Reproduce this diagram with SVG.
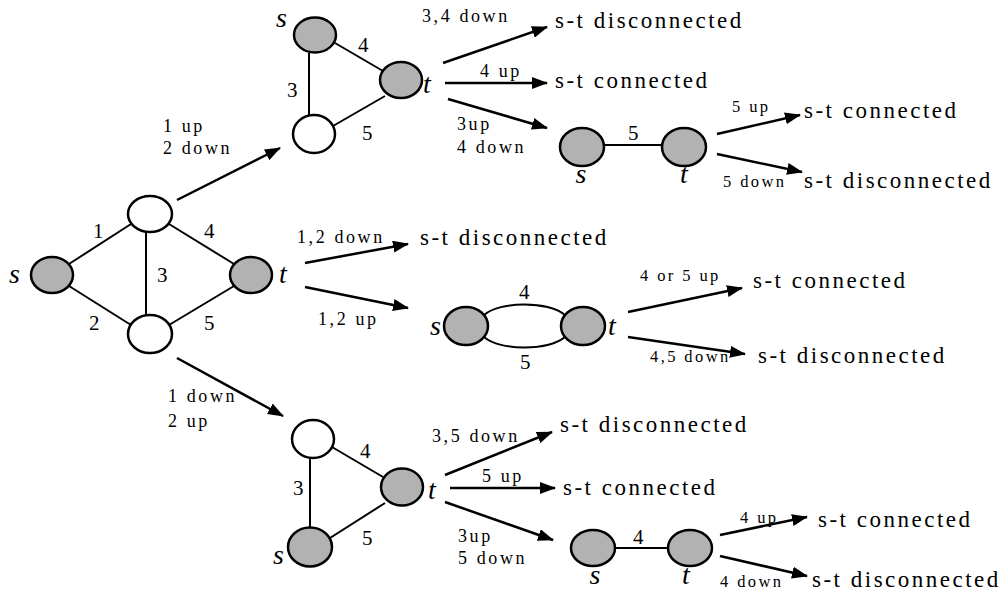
<svg xmlns="http://www.w3.org/2000/svg" width="1008" height="596" viewBox="0 0 1008 596">
<defs>
<marker id="ah" markerUnits="userSpaceOnUse" markerWidth="16" markerHeight="12" refX="15" refY="6" orient="auto">
<path d="M0,0 L16,6 L0,12 z" fill="#000"/>
</marker>
<style>
.g{fill:#b2b2b2;stroke:#000;stroke-width:2.5}
.w{fill:#fff;stroke:#000;stroke-width:2.5}
.e{stroke:#000;stroke-width:2;fill:none}
.a{stroke:#000;stroke-width:2.5;fill:none;marker-end:url(#ah)}
text{font-family:"Liberation Serif","Times New Roman",serif;fill:#000}
.n{font-size:21px}
.v{font-size:28px;font-style:italic}
.l{font-size:18px;letter-spacing:2.6px}
.r{font-size:16.5px;letter-spacing:2.4px}
.o{font-size:23px;letter-spacing:2.5px}
</style>
</defs>
<rect width="1008" height="596" fill="#fff"/>

<g id="connectors">
<!-- main graph edges -->
<line class="e" x1="69" y1="264" x2="131" y2="224"/>
<line class="e" x1="169" y1="224" x2="234" y2="264"/>
<line class="e" x1="69" y1="286" x2="131" y2="325"/>
<line class="e" x1="169" y1="325" x2="234" y2="286"/>
<line class="e" x1="146" y1="232" x2="146" y2="315"/>
<!-- top triangle edges -->
<line class="e" x1="335" y1="43" x2="383" y2="71"/>
<line class="e" x1="309" y1="53" x2="309" y2="115"/>
<line class="e" x1="333" y1="126" x2="385" y2="96"/>
<!-- top 5 graph edge -->
<line class="e" x1="604" y1="145" x2="662" y2="145"/>
<!-- middle two-edge graph -->
<path class="e" d="M484,315 C500,301 548,301 565,315"/>
<path class="e" d="M484,337 C500,351 548,351 565,337"/>
<!-- bottom triangle edges -->
<line class="e" x1="332" y1="447" x2="383" y2="477"/>
<line class="e" x1="310" y1="458" x2="310" y2="528"/>
<line class="e" x1="330" y1="538" x2="385" y2="503"/>
<!-- bottom 4 graph edge -->
<line class="e" x1="615" y1="548" x2="668" y2="548"/>

<!-- arrows -->
<line class="a" x1="177" y1="200" x2="280" y2="148"/>
<line class="a" x1="305" y1="263" x2="408" y2="244"/>
<line class="a" x1="305" y1="287" x2="408" y2="308"/>
<line class="a" x1="177" y1="358" x2="283" y2="416"/>

<line class="a" x1="443" y1="63" x2="547" y2="27"/>
<line class="a" x1="445" y1="83" x2="547" y2="83"/>
<line class="a" x1="448" y1="99" x2="547" y2="128"/>
<line class="a" x1="717" y1="134" x2="800" y2="115"/>
<line class="a" x1="717" y1="154" x2="802" y2="172"/>

<line class="a" x1="628" y1="312" x2="742" y2="288"/>
<line class="a" x1="628" y1="337" x2="745" y2="354"/>

<line class="a" x1="445" y1="475" x2="552" y2="432"/>
<line class="a" x1="450" y1="488" x2="555" y2="488"/>
<line class="a" x1="445" y1="502" x2="553" y2="540"/>
<line class="a" x1="720" y1="535" x2="807" y2="517"/>
<line class="a" x1="720" y1="556" x2="807" y2="576"/>
</g>

<!-- main graph -->
<g id="main-s"><ellipse class="g" cx="52" cy="275" rx="21" ry="18"/><text class="v" x="9" y="283">s</text></g>
<g id="main-a"><ellipse class="w" cx="150" cy="214" rx="22" ry="18"/></g>
<g id="main-b"><ellipse class="w" cx="150" cy="334" rx="22" ry="19"/></g>
<g id="main-t"><ellipse class="g" cx="251" cy="275" rx="21" ry="18"/><text class="v" x="279" y="283">t</text></g>
<g id="main-labels">
<text class="n" x="93" y="238">1</text>
<text class="n" x="204" y="238">4</text>
<text class="n" x="157" y="282">3</text>
<text class="n" x="89" y="330">2</text>
<text class="n" x="204" y="330">5</text>
</g>

<!-- top triangle -->
<g id="top-s"><ellipse class="g" cx="315" cy="35" rx="21" ry="17.5"/><text class="v" x="276" y="27">s</text></g>
<g id="top-t"><ellipse class="g" cx="401" cy="80" rx="21" ry="18"/><text class="v" x="423" y="93">t</text></g>
<g id="top-c"><ellipse class="w" cx="314" cy="134" rx="21" ry="19"/></g>
<g id="top-labels">
<text class="n" x="358" y="52">4</text>
<text class="n" x="287" y="97">3</text>
<text class="n" x="362" y="140">5</text>
</g>

<!-- top 5 graph -->
<g id="top5-s"><ellipse class="g" cx="582" cy="147" rx="22" ry="19"/><text class="v" x="581" y="183" text-anchor="middle">s</text></g>
<g id="top5-t"><ellipse class="g" cx="684" cy="147" rx="22" ry="19"/><text class="v" x="684" y="183" text-anchor="middle">t</text></g>
<text class="n" x="628" y="140">5</text>

<!-- middle graph -->
<g id="mid-s"><ellipse class="g" cx="466" cy="326" rx="22" ry="19"/><text class="v" x="430" y="335">s</text></g>
<g id="mid-t"><ellipse class="g" cx="583" cy="326" rx="22" ry="19"/><text class="v" x="608" y="335">t</text></g>
<text class="n" x="519" y="299">4</text>
<text class="n" x="520" y="369">5</text>

<!-- bottom triangle -->
<g id="bot-c"><ellipse class="w" cx="313" cy="439" rx="21" ry="19"/></g>
<g id="bot-t"><ellipse class="g" cx="402" cy="487" rx="21" ry="18.5"/><text class="v" x="428" y="499">t</text></g>
<g id="bot-s"><ellipse class="g" cx="310" cy="547" rx="22" ry="19.5"/><text class="v" x="273" y="564">s</text></g>
<g id="bot-labels">
<text class="n" x="360" y="458">4</text>
<text class="n" x="293" y="495">3</text>
<text class="n" x="362" y="545">5</text>
</g>

<!-- bottom 4 graph -->
<g id="bot4-s"><ellipse class="g" cx="593" cy="548" rx="22" ry="18"/><text class="v" x="595" y="584" text-anchor="middle">s</text></g>
<g id="bot4-t"><ellipse class="g" cx="690" cy="548" rx="22" ry="18"/><text class="v" x="686" y="584" text-anchor="middle">t</text></g>
<text class="n" x="633" y="544">4</text>

<!-- arrow labels -->
<g id="arrow-labels">
<text class="l" x="163" y="132">1 up</text>
<text class="l" x="163" y="154">2 down</text>
<text class="l" x="297" y="243">1,2 down</text>
<text class="l" x="318" y="325">1,2 up</text>
<text class="l" x="168" y="402">1 down</text>
<text class="l" x="168" y="427">2 up</text>
<text class="l" x="422" y="22">3,4 down</text>
<text class="l" x="480" y="77">4 up</text>
<text class="l" x="457" y="130">3up</text>
<text class="l" x="457" y="153">4 down</text>
<text class="r" x="732" y="112">5 up</text>
<text class="r" x="723" y="187">5 down</text>
<text class="r" x="640" y="281">4 or 5 up</text>
<text class="r" x="650" y="362">4,5 down</text>
<text class="l" x="432" y="442">3,5 down</text>
<text class="l" x="482" y="482">5 up</text>
<text class="l" x="458" y="542">3up</text>
<text class="l" x="458" y="564">5 down</text>
<text class="r" x="740" y="523">4 up</text>
<text class="r" x="720" y="587">4 down</text>
</g>

<!-- outcomes -->
<g id="outcomes">
<text class="o" x="555" y="28">s-t disconnected</text>
<text class="o" x="555" y="88">s-t connected</text>
<text class="o" x="804" y="118">s-t connected</text>
<text class="o" x="804" y="188">s-t disconnected</text>
<text class="o" x="420" y="245">s-t disconnected</text>
<text class="o" x="753" y="288">s-t connected</text>
<text class="o" x="758" y="363">s-t disconnected</text>
<text class="o" x="560" y="432">s-t disconnected</text>
<text class="o" x="563" y="495">s-t connected</text>
<text class="o" x="818" y="527">s-t connected</text>
<text class="o" x="812" y="587">s-t disconnected</text>
</g>
</svg>
